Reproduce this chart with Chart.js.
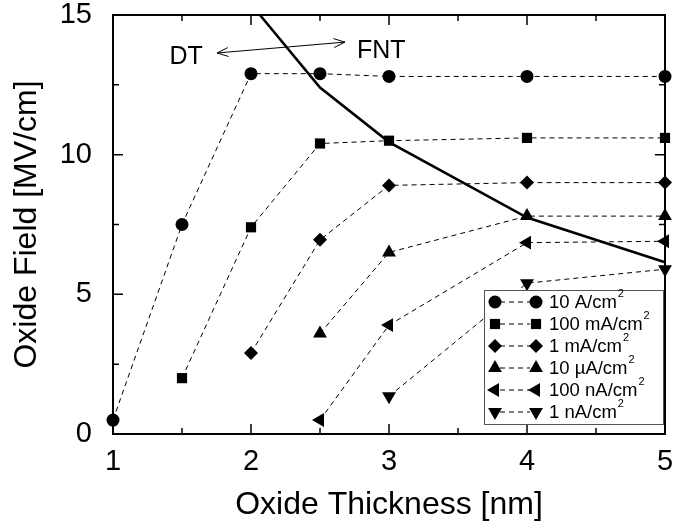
<!DOCTYPE html>
<html><head><meta charset="utf-8">
<script src="https://cdn.jsdelivr.net/npm/chart.js@4.4.0/dist/chart.umd.min.js"></script>
<style>html,body{margin:0;padding:0;background:#fff}</style>
</head><body>
<canvas id="c" width="673" height="530"></canvas>
<script>
// ---- data ----
const xTicks = [1, 2, 3, 4, 5];
const yTicks = [0, 5, 10, 15];
const seriesLabels = ['10 A/cm²', '100 mA/cm²', '1 mA/cm²', '10 µA/cm²', '100 nA/cm²', '1 nA/cm²'];
const x_10A   = [1, 1.5, 2, 2.5, 3, 4, 5];
const y_10A   = [0.5, 7.5, 12.9, 12.9, 12.8, 12.8, 12.8];
const x_100mA = [1.5, 2, 2.5, 3, 4, 5];
const y_100mA = [2.0, 7.4, 10.4, 10.5, 10.6, 10.6];
const x_1mA   = [2, 2.5, 3, 4, 5];
const y_1mA   = [2.9, 6.95, 8.9, 9.0, 9.0];
const x_10uA  = [2.5, 3, 4, 5];
const y_10uA  = [3.6, 6.5, 7.8, 7.8];
const x_100nA = [2.5, 3, 4, 5];
const y_100nA = [0.5, 3.9, 6.85, 6.9];
const x_1nA   = [3, 4, 5];
const y_1nA   = [1.35, 5.4, 5.9];
// DT / FNT boundary (thick line)
const x_bound = [2.065, 2.5, 3, 4, 5];
const y_bound = [15, 12.4, 10.45, 7.75, 6.15];
// annotation
const annoDT = 'DT';
const annoFNT = 'FNT';

const FONT = "'Liberation Sans', Arial, Helvetica, sans-serif";
const pts = (xs, ys) => xs.map((x, i) => ({x: x, y: ys[i]}));

const styles = [
  {ps: 'circle', r: 6.5, rot: 0},
  {ps: 'rect', r: 7.2, rot: 0},
  {ps: 'rectRot', r: 7, rot: 0},
  {ps: 'triangle', r: 8, rot: 0},
  {ps: 'triangle', r: 8, rot: 270},
  {ps: 'triangle', r: 8, rot: 180}
];
const seriesX = [x_10A, x_100mA, x_1mA, x_10uA, x_100nA, x_1nA];
const seriesY = [y_10A, y_100mA, y_1mA, y_10uA, y_100nA, y_1nA];

const datasets = seriesLabels.map((lab, i) => ({
  label: lab,
  data: pts(seriesX[i], seriesY[i]),
  showLine: true,
  borderColor: '#000',
  backgroundColor: '#000',
  borderWidth: 1,
  borderDash: [5, 4],
  pointStyle: styles[i].ps,
  pointRadius: styles[i].r,
  pointRotation: styles[i].rot,
  pointBorderWidth: 0,
  pointBackgroundColor: '#000',
  clip: false
}));
datasets.push({
  label: 'boundary',
  data: pts(x_bound, y_bound),
  showLine: true,
  borderColor: '#000',
  borderWidth: 2.6,
  pointRadius: 0,
  clip: false
});

function drawMarker(ctx, style, radius, rotation, x, y) {
  let rad = rotation * Math.PI / 180;
  ctx.beginPath();
  if (style === 'circle') {
    ctx.arc(x, y, radius, 0, Math.PI * 2);
  } else if (style === 'rect') {
    const s = radius * Math.SQRT1_2;
    ctx.rect(x - s, y - s, 2 * s, 2 * s);
  } else if (style === 'rectRot') {
    ctx.moveTo(x, y - radius); ctx.lineTo(x + radius, y);
    ctx.lineTo(x, y + radius); ctx.lineTo(x - radius, y);
  } else if (style === 'triangle') {
    for (let k = 0; k < 3; k++) {
      const px = x + Math.sin(rad) * radius, py = y - Math.cos(rad) * radius;
      if (k === 0) ctx.moveTo(px, py); else ctx.lineTo(px, py);
      rad += 2 * Math.PI / 3;
    }
  }
  ctx.closePath();
  ctx.fill();
}

const framePlugin = {
  id: 'frame',
  beforeDatasetsDraw(chart) {
    const {ctx, chartArea: a, scales} = chart;
    const xs = scales.x, ys = scales.y;
    ctx.save();
    ctx.strokeStyle = '#000';
    ctx.lineWidth = 2;
    ctx.strokeRect(a.left, a.top, a.right - a.left, a.bottom - a.top);
    ctx.lineWidth = 1.5;
    ctx.beginPath();
    for (let i = 0; i < xTicks.length; i++) {
      const v = xTicks[i];
      const px = xs.getPixelForValue(v);
      ctx.moveTo(px, a.bottom); ctx.lineTo(px, a.bottom - 10);
      ctx.moveTo(px, a.top); ctx.lineTo(px, a.top + 10);
      if (i < xTicks.length - 1) {
        const m = xs.getPixelForValue((v + xTicks[i + 1]) / 2);
        ctx.moveTo(m, a.bottom); ctx.lineTo(m, a.bottom - 6);
        ctx.moveTo(m, a.top); ctx.lineTo(m, a.top + 6);
      }
    }
    for (let i = 0; i < yTicks.length; i++) {
      const v = yTicks[i];
      const py = ys.getPixelForValue(v);
      ctx.moveTo(a.left, py); ctx.lineTo(a.left + 10, py);
      ctx.moveTo(a.right, py); ctx.lineTo(a.right - 10, py);
      if (i < yTicks.length - 1) {
        const m = ys.getPixelForValue((v + yTicks[i + 1]) / 2);
        ctx.moveTo(a.left, m); ctx.lineTo(a.left + 6, m);
        ctx.moveTo(a.right, m); ctx.lineTo(a.right - 6, m);
      }
    }
    ctx.stroke();
    ctx.restore();
  }
};

const annoPlugin = {
  id: 'anno',
  afterDatasetsDraw(chart) {
    const {ctx, scales} = chart;
    const X = v => scales.x.getPixelForValue(v), Y = v => scales.y.getPixelForValue(v);
    const x1 = X(1.754), y1 = Y(13.64), x2 = X(2.681), y2 = Y(14.03);
    ctx.save();
    ctx.strokeStyle = '#000';
    ctx.lineWidth = 1;
    ctx.beginPath();
    ctx.moveTo(x1, y1); ctx.lineTo(x2, y2);
    const ang = Math.atan2(y2 - y1, x2 - x1);
    const L = 12, A = 0.38;
    ctx.moveTo(x1 + L * Math.cos(ang + A), y1 + L * Math.sin(ang + A));
    ctx.lineTo(x1, y1);
    ctx.lineTo(x1 + L * Math.cos(ang - A), y1 + L * Math.sin(ang - A));
    ctx.moveTo(x2 - L * Math.cos(ang + A), y2 - L * Math.sin(ang + A));
    ctx.lineTo(x2, y2);
    ctx.lineTo(x2 - L * Math.cos(ang - A), y2 - L * Math.sin(ang - A));
    ctx.stroke();
    ctx.fillStyle = '#000';
    ctx.font = '25px ' + FONT;
    ctx.textBaseline = 'middle';
    ctx.textAlign = 'center';
    ctx.fillText(annoDT, X(1.53), Y(13.5));
    ctx.textAlign = 'left';
    ctx.fillText(annoFNT, X(2.768), Y(13.72));
    ctx.restore();
  }
};

const legendPlugin = {
  id: 'customLegend',
  afterDraw(chart) {
    const {ctx, chartArea: a} = chart;
    const bx = a.right - 181, by = a.bottom - 144, bw = 179, bh = 134;
    ctx.save();
    ctx.fillStyle = '#fff';
    ctx.fillRect(bx, by, bw, bh);
    ctx.strokeStyle = '#555';
    ctx.lineWidth = 1;
    ctx.strokeRect(bx + 0.5, by + 0.5, bw, bh);
    for (let i = 0; i < seriesLabels.length; i++) {
      const cy = by + 12 + i * 22;
      const st = styles[i];
      ctx.fillStyle = '#000';
      drawMarker(ctx, st.ps, st.r, st.rot, bx + 11, cy);
      drawMarker(ctx, st.ps, st.r, st.rot, bx + 52, cy);
      ctx.strokeStyle = '#000';
      ctx.setLineDash([5, 4]);
      ctx.beginPath();
      ctx.moveTo(bx + 16, cy); ctx.lineTo(bx + 46, cy);
      ctx.stroke();
      ctx.setLineDash([]);
      let lab = seriesLabels[i];
      let sup = '';
      if (lab.endsWith('²')) { sup = '2'; lab = lab.slice(0, -1); }
      ctx.font = '18.5px ' + FONT;
      ctx.textBaseline = 'middle';
      ctx.textAlign = 'left';
      const tx = bx + 65;
      ctx.fillText(lab, tx, cy + 1);
      const w = ctx.measureText(lab).width;
      ctx.font = '11px ' + FONT;
      ctx.fillText(sup, tx + w + 1, cy - 8);
    }
    ctx.restore();
  }
};

new Chart(document.getElementById('c'), {
  type: 'scatter',
  data: {datasets},
  plugins: [framePlugin, annoPlugin, legendPlugin],
  options: {
    responsive: false,
    animation: false,
    devicePixelRatio: 1,
    layout: {padding: {left: 0, right: 8, top: 15, bottom: 0}},
    plugins: {legend: {display: false}, tooltip: {enabled: false}},
    elements: {line: {tension: 0}},
    scales: {
      x: {
        type: 'linear', min: 1, max: 5,
        afterBuildTicks: s => { s.ticks = xTicks.map(v => ({value: v})); },
        afterFit: s => { s.height = 96; s.paddingLeft = 0; s.paddingRight = 0; s.paddingTop = 0; s.paddingBottom = 0; },
        grid: {display: false, drawTicks: false},
        border: {display: false},
        ticks: {color: '#000', font: {family: FONT, size: 29}, padding: 11, maxRotation: 0},
        title: {display: true, text: 'Oxide Thickness [nm]', color: '#000',
                font: {family: FONT, size: 32}, padding: {top: 0, bottom: 6}}
      },
      y: {
        type: 'linear', min: 0, max: 15,
        afterBuildTicks: s => { s.ticks = yTicks.map(v => ({value: v})); },
        afterFit: s => { s.width = 113; s.paddingLeft = 0; s.paddingRight = 0; s.paddingTop = 0; s.paddingBottom = 0; },
        grid: {display: false, drawTicks: false},
        border: {display: false},
        ticks: {color: '#000', font: {family: FONT, size: 29}, padding: 21},
        title: {display: true, text: 'Oxide Field [MV/cm]', color: '#000',
                font: {family: FONT, size: 32}, padding: {top: 8, bottom: 0}}
      }
    }
  }
});
</script>
</body></html>
